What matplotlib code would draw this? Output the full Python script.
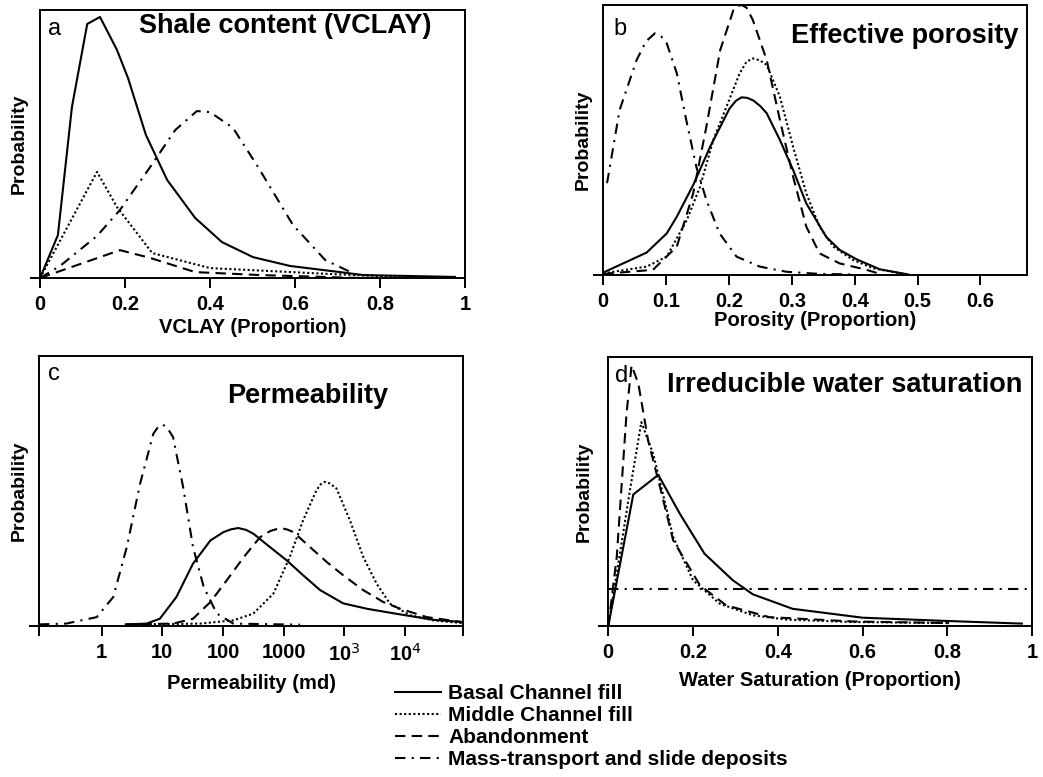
import matplotlib
matplotlib.use("Agg")
import matplotlib.pyplot as plt
from matplotlib.lines import Line2D

plt.rcParams['font.family'] = ['Liberation Sans', 'DejaVu Sans']

# ---------------- data ----------------
series_names = ["Basal Channel fill", "Middle Channel fill", "Abandonment",
                "Mass-transport and slide deposits"]

# (a) Shale content
a_basal_x = [0, 0.042, 0.075, 0.111, 0.141, 0.181, 0.207, 0.249, 0.299, 0.365, 0.428, 0.501, 0.588, 0.706, 0.760, 0.976]
a_basal_y = [0, 0.160, 0.638, 0.948, 0.974, 0.851, 0.746, 0.534, 0.366, 0.224, 0.134, 0.078, 0.045, 0.022, 0.011, 0.004]
a_middle_x = [0, 0.134, 0.181, 0.264, 0.40, 0.541, 0.682, 0.847]
a_middle_y = [0, 0.396, 0.265, 0.093, 0.037, 0.026, 0.015, 0.004]
a_aband_x = [0, 0.188, 0.259, 0.365, 0.518, 0.753]
a_aband_y = [0, 0.104, 0.075, 0.022, 0.011, 0.0]
a_mass_x = [0, 0.047, 0.134, 0.188, 0.259, 0.318, 0.369, 0.40, 0.454, 0.513, 0.595, 0.671, 0.76]
a_mass_y = [0, 0.045, 0.157, 0.254, 0.414, 0.552, 0.623, 0.619, 0.560, 0.414, 0.198, 0.067, 0.0]

# (b) Effective porosity
b_basal_x = [0, 0.069, 0.101, 0.117, 0.143, 0.170, 0.201, 0.211, 0.220, 0.229, 0.239, 0.250, 0.260, 0.281, 0.302, 0.323, 0.355, 0.376, 0.403, 0.440, 0.485]
b_basal_y = [0.009, 0.083, 0.154, 0.216, 0.333, 0.475, 0.617, 0.645, 0.658, 0.656, 0.646, 0.625, 0.599, 0.50, 0.389, 0.265, 0.14, 0.093, 0.058, 0.021, 0.002]
b_middle_x = [0, 0.069, 0.101, 0.133, 0.154, 0.175, 0.196, 0.217, 0.228, 0.238, 0.249, 0.260, 0.281, 0.302, 0.323, 0.344, 0.366, 0.397, 0.429, 0.477]
b_middle_y = [0.006, 0.031, 0.068, 0.204, 0.327, 0.50, 0.623, 0.747, 0.790, 0.802, 0.795, 0.778, 0.660, 0.475, 0.302, 0.179, 0.105, 0.056, 0.025, 0.004]
b_aband_x = [0, 0.079, 0.117, 0.143, 0.164, 0.186, 0.207, 0.214, 0.220, 0.228, 0.238, 0.260, 0.281, 0.302, 0.323, 0.344, 0.376, 0.419, 0.440]
b_aband_y = [0.004, 0.019, 0.105, 0.302, 0.549, 0.833, 0.981, 0.996, 1.0, 0.99, 0.944, 0.796, 0.574, 0.364, 0.179, 0.080, 0.043, 0.019, 0.004]
b_mass_x = [0.006, 0.026, 0.053, 0.068, 0.082, 0.092, 0.101, 0.117, 0.132, 0.148, 0.164, 0.185, 0.212, 0.249, 0.291, 0.344, 0.397]
b_mass_y = [0.340, 0.611, 0.796, 0.865, 0.895, 0.884, 0.858, 0.747, 0.574, 0.401, 0.278, 0.154, 0.068, 0.031, 0.012, 0.004, 0.002]

# (c) Permeability (md)
c_basal_x = [2.6, 5.5, 9.1, 17, 32, 62, 102, 135, 178, 240, 316, 589, 1122, 2089, 3981, 9550, 23440, 83180, 295000, 851000]
c_basal_y = [0.006, 0.009, 0.027, 0.107, 0.231, 0.317, 0.348, 0.358, 0.363, 0.356, 0.342, 0.293, 0.243, 0.188, 0.133, 0.084, 0.064, 0.043, 0.023, 0.015]
c_middle_x = [4.3, 42, 148, 316, 676, 1259, 2089, 3467, 4074, 4786, 5754, 7413, 12300, 20420, 33880, 56230, 120200, 295000, 851000]
c_middle_y = [0.006, 0.009, 0.021, 0.046, 0.12, 0.256, 0.392, 0.503, 0.525, 0.534, 0.528, 0.509, 0.392, 0.256, 0.157, 0.083, 0.040, 0.021, 0.011]
c_aband_x = [2.4, 15, 32, 62, 115, 219, 407, 603, 871, 1122, 1445, 2692, 5129, 9550, 20420, 43650, 83180, 229000, 851000]
c_aband_y = [0.006, 0.009, 0.027, 0.089, 0.169, 0.255, 0.329, 0.352, 0.363, 0.358, 0.348, 0.293, 0.237, 0.188, 0.133, 0.089, 0.064, 0.033, 0.015]
c_mass_x = [0.093, 0.26, 0.83, 1.55, 2.6, 4.3, 7.1, 8.5, 10, 12, 15, 22, 32, 48, 79, 148, 1860]
c_mass_y = [0.006, 0.009, 0.033, 0.107, 0.293, 0.527, 0.712, 0.737, 0.747, 0.735, 0.700, 0.515, 0.293, 0.145, 0.046, 0.009, 0.005]
c_tick_vals = [0.094, 1, 10, 100, 1000, 1e4, 1e5, 9.1e5]
c_tick_labels = ["", "1", "10", "100", "1000", "10$^3$", "10$^4$", ""]

# (d) Irreducible water saturation
d_basal_x = [0, 0.059, 0.118, 0.169, 0.227, 0.294, 0.341, 0.435, 0.60, 0.796, 0.976]
d_basal_y = [0, 0.489, 0.562, 0.417, 0.269, 0.170, 0.118, 0.064, 0.031, 0.019, 0.009]
d_middle_x = [0, 0.020, 0.051, 0.078, 0.106, 0.129, 0.153, 0.20, 0.263, 0.341, 0.42, 0.576, 0.804]
d_middle_y = [0, 0.195, 0.504, 0.758, 0.640, 0.491, 0.331, 0.170, 0.083, 0.040, 0.024, 0.015, 0.011]
d_aband_x = [0, 0.020, 0.043, 0.055, 0.071, 0.094, 0.122, 0.153, 0.216, 0.278, 0.38, 0.576, 0.804]
d_aband_y = [0, 0.257, 0.790, 0.969, 0.901, 0.690, 0.517, 0.319, 0.152, 0.077, 0.033, 0.017, 0.011]
d_mass_x = [0, 1.0]
d_mass_y = [0.139, 0.139]

ab_ticks = [0, 0.2, 0.4, 0.6, 0.8, 1]
ab_labels = ["0", "0.2", "0.4", "0.6", "0.8", "1"]
b_ticks = [0, 0.1, 0.2, 0.3, 0.4, 0.5, 0.6]
b_labels = ["0", "0.1", "0.2", "0.3", "0.4", "0.5", "0.6"]

# ---------------- styles ----------------
LW = 1.5
styles = [
    dict(color="black", lw=LW, linestyle="-", solid_joinstyle="round"),
    dict(color="black", lw=LW, linestyle=(0, (1, 1.2))),
    dict(color="black", lw=LW, linestyle=(0, (5, 3))),
    dict(color="black", lw=LW, linestyle=(0, (5, 3, 1, 3))),
]
TICK_FS = 14.5
LAB_FS = 14.5
YLAB_FS = 14
TITLE_FS = 19.5
LET_FS = 17

fig = plt.figure(figsize=(10.43, 7.77), dpi=100)

def make_ax(rect):
    ax = fig.add_axes(rect)
    for s in ax.spines.values():
        s.set_linewidth(1.4)
    ax.set_yticks([0])
    ax.set_yticklabels([])
    ax.tick_params(axis="both", direction="out", length=7, width=1.4, pad=5.5)
    ax.set_ylim(0, 1)
    return ax

def style_ticks(ax):
    for lab in ax.get_xticklabels():
        lab.set_fontweight("bold")
        lab.set_fontsize(TICK_FS)

def ylab(ax, pad):
    ax.set_ylabel("Probability", fontsize=YLAB_FS, fontweight="bold", labelpad=pad)

def draw(ax, data):
    for (x, y), st in zip(data, styles):
        ax.plot(x, y, **st)

# (a)
ax = make_ax([0.0384, 0.6422, 0.4075, 0.3449])
draw(ax, [(a_basal_x, a_basal_y), (a_middle_x, a_middle_y),
          (a_aband_x, a_aband_y), (a_mass_x, a_mass_y)])
ax.set_xlim(0, 1)
ax.set_xticks(ab_ticks)
ax.set_xticklabels(ab_labels)
style_ticks(ax)
ax.set_xlabel("VCLAY (Proportion)", fontsize=LAB_FS, fontweight="bold", labelpad=2.5)
ylab(ax, -4)
ax.text(0.019, 0.907, "a", transform=ax.transAxes, fontsize=LET_FS, va="baseline", ha="left")
ax.text(0.578, 0.914, "Shale content (VCLAY)", transform=ax.transAxes,
        fontsize=TITLE_FS, fontweight="bold", va="baseline", ha="center")

# (b)
ax = make_ax([0.5784, 0.6461, 0.4062, 0.3475])
draw(ax, [(b_basal_x, b_basal_y), (b_middle_x, b_middle_y),
          (b_aband_x, b_aband_y), (b_mass_x, b_mass_y)])
ax.set_xlim(0, 0.674)
ax.set_xticks(b_ticks)
ax.set_xticklabels(b_labels)
style_ticks(ax)
ax.set_xlabel("Porosity (Proportion)", fontsize=LAB_FS, fontweight="bold", labelpad=0)
ylab(ax, -4)
ax.text(0.024, 0.889, "b", transform=ax.transAxes, fontsize=LET_FS, va="baseline", ha="left")
ax.text(0.979, 0.859, "Effective porosity", transform=ax.transAxes,
        fontsize=TITLE_FS, fontweight="bold", va="baseline", ha="right")

# (c)
ax = make_ax([0.0377, 0.1943, 0.4065, 0.3475])
draw(ax, [(c_basal_x, c_basal_y), (c_middle_x, c_middle_y),
          (c_aband_x, c_aband_y), (c_mass_x, c_mass_y)])
ax.set_xscale("log")
ax.set_xlim(c_tick_vals[0], c_tick_vals[-1])
ax.set_xticks(c_tick_vals)
ax.set_xticklabels(c_tick_labels)
ax.minorticks_off()
style_ticks(ax)
ax.set_xlabel("Permeability (md)", fontsize=LAB_FS, fontweight="bold", labelpad=6.5)
ylab(ax, -4)
ax.text(0.021, 0.911, "c", transform=ax.transAxes, fontsize=LET_FS, va="baseline", ha="left")
ax.text(0.634, 0.826, "Permeability", transform=ax.transAxes,
        fontsize=TITLE_FS, fontweight="bold", va="baseline", ha="center")

# (d)
ax = make_ax([0.5832, 0.1943, 0.4063, 0.3462])
draw(ax, [(d_basal_x, d_basal_y), (d_middle_x, d_middle_y),
          (d_aband_x, d_aband_y), (d_mass_x, d_mass_y)])
ax.set_xlim(0, 1)
ax.set_xticks(ab_ticks)
ax.set_xticklabels(ab_labels)
style_ticks(ax)
ax.set_xlabel("Water Saturation (Proportion)", fontsize=LAB_FS, fontweight="bold", labelpad=6)
ylab(ax, -1)
ax.text(0.017, 0.907, "d", transform=ax.transAxes, fontsize=LET_FS, va="baseline", ha="left")
ax.text(0.976, 0.87, "Irreducible water saturation", transform=ax.transAxes,
        fontsize=TITLE_FS, fontweight="bold", va="baseline", ha="right")

# legend
handles = [Line2D([], [], **st) for st in styles]
fig.legend(handles, series_names, loc="upper left",
           bbox_to_anchor=(395 / 1043, 1 - 684 / 777),
           bbox_transform=fig.transFigure, frameon=False,
           prop=dict(size=15, weight="bold"),
           handlelength=2.2, handletextpad=0.35, labelspacing=0.15,
           borderpad=0, borderaxespad=0)

fig.savefig("out.png", dpi=100)
